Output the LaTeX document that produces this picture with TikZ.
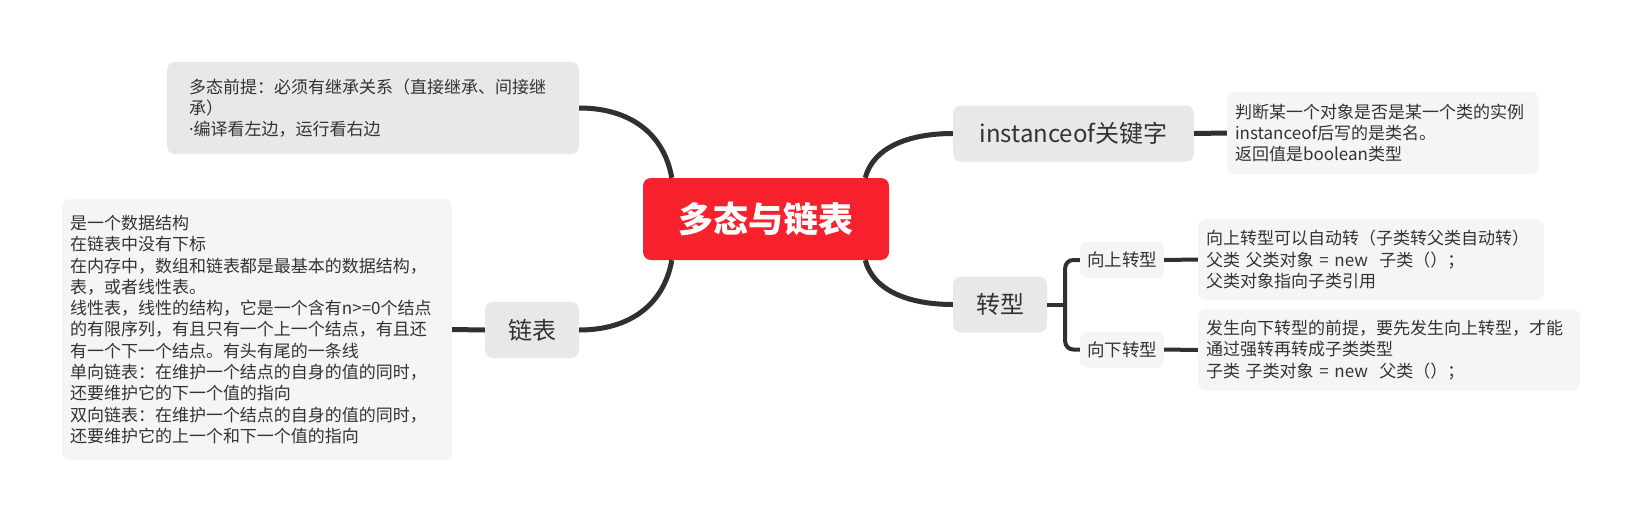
\documentclass[tikz,border=0pt]{standalone}
\usepackage{fontspec}
\setmainfont{Noto Sans CJK SC}
\newfontfamily\latinfont{Noto Sans}

\definecolor{rootred}{HTML}{F7212E}
\definecolor{topicgray}{HTML}{E8E8E8}
\definecolor{notegray}{HTML}{F5F5F5}
\definecolor{textgray}{HTML}{333333}
\definecolor{linkgray}{HTML}{303030}

\begin{document}
\begin{tikzpicture}[
    x=1pt, y=-1pt,
    % Define connector styles
    branch/.style={draw=linkgray, line width=5pt},
    twig/.style={draw=linkgray, line width=4pt},
    % Define box styles
    root/.style={fill=rootred, text=white, rounded corners=8pt, minimum width=246pt, minimum height=82pt, font=\fontsize{35}{40}\selectfont\bfseries},
    topic/.style={fill=topicgray, text=textgray, rounded corners=8pt, minimum height=56pt, font=\fontsize{24}{28}\selectfont},
    subtopic/.style={fill=notegray, text=textgray, rounded corners=7pt, minimum height=36pt, font=\fontsize{17.5}{21}\selectfont},
    note/.style={fill=notegray, text=textgray, rounded corners=8pt, align=left, inner xsep=8pt, font=\fontsize{17}{21.3}\selectfont}
]

% Page size
\useasboundingbox (0,0) rectangle (1642,523);

% Central topic
\node[root] (root) at (766,219) {多态与链表};

% Left side: premise and linked list
\node[note, fill=topicgray, inner xsep=22pt, text width=368pt, minimum height=92pt] (premise) at (373,108)
    {多态前提：必须有继承关系（直接继承、间接继\\承）\\{\latinfont ·}编译看左边，运行看右边};
\node[topic, minimum width=94pt] (list) at (532,330) {链表};
\node[note, text width=374pt, minimum height=261pt] (listnote) at (257,329.5)
    {是一个数据结构\\
     在链表中没有下标\\
     在内存中，数组和链表都是最基本的数据结构，\\
     表，或者线性表。\\
     线性表，线性的结构，它是一个含有n>=0个结点\\
     的有限序列，有且只有一个上一个结点，有且还\\
     有一个下一个结点。有头有尾的一条线\\
     单向链表：在维护一个结点的自身的值的同时，\\
     还要维护它的下一个值的指向\\
     双向链表：在维护一个结点的自身的值的同时，\\
     还要维护它的上一个和下一个值的指向};

% Right side: instanceof and casting
\node[topic, minimum width=241pt] (inst) at (1073.5,133.5) {instanceof关键字};
\node[note, text width=296pt, minimum height=82pt] (instnote) at (1383,133)
    {判断某一个对象是否是某一个类的实例\\instanceof后写的是类名。\\返回值是boolean类型};
\node[topic, minimum width=94pt] (cast) at (1000,304.5) {转型};
\node[subtopic, minimum width=84pt] (upcast) at (1122,260) {向上转型};
\node[subtopic, minimum width=84pt] (downcast) at (1122,349.5) {向下转型};
\node[note, text width=330pt, minimum height=81pt] (upnote) at (1371,259.5)
    {向上转型可以自动转（子类转父类自动转）\\父类~父类对象~=~new~~子类（）；\\父类对象指向子类引用};
\node[note, text width=366pt, minimum height=81pt] (downnote) at (1389,350)
    {发生向下转型的前提，要先发生向上转型，才能\\通过强转再转成子类类型\\子类~子类对象~=~new~~父类（）；};

% Connectors from the root
\draw[branch] ([xshift=29pt]root.north west) .. controls +(-8,-45) and +(50,0) .. (premise.east);
\draw[branch] ([xshift=29pt]root.south west) .. controls +(-8,45) and +(50,0) .. (list.east);
\draw[branch] ([xshift=-24pt]root.north east) .. controls +(8,-30) and +(-45,0) .. (inst.west);
\draw[branch] ([xshift=-24pt]root.south east) .. controls +(8,30) and +(-45,0) .. (cast.west);

% Connectors to the notes
\draw[branch] (list.west) -- (listnote.east);
\draw[branch] (inst.east) -- (instnote.west);
\draw[twig] (cast.east) -- ++(18,0);
\draw[twig, rounded corners=8pt] (upcast.west) -| ([xshift=18pt]cast.east) |- (downcast.west);
\draw[twig] (upcast.east) -- (upnote.west);
\draw[twig] (downcast.east) -- (downnote.west);

\end{tikzpicture}
\end{document}
